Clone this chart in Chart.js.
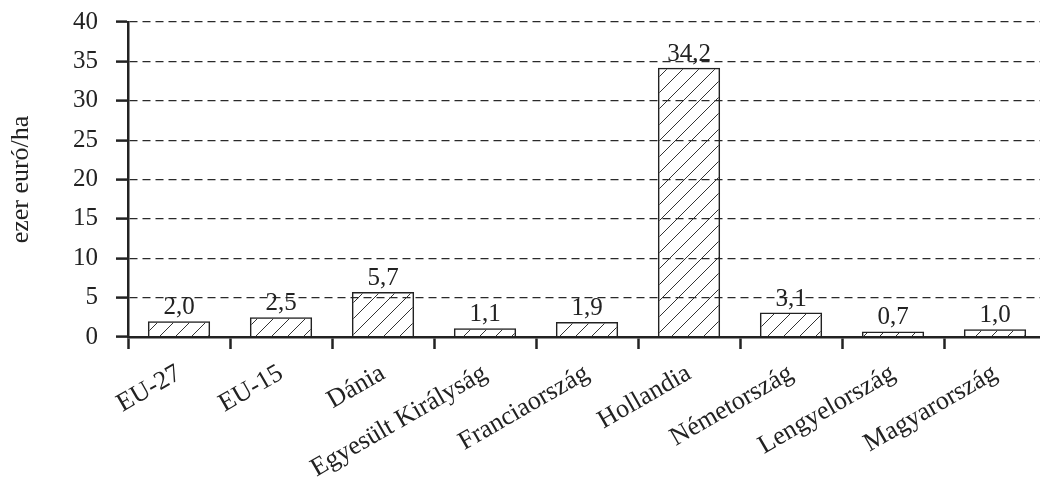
<!DOCTYPE html>
<html>
<head>
<meta charset="utf-8">
<script src="https://cdn.jsdelivr.net/npm/chart.js@4/dist/chart.umd.min.js"></script>
<style>
  html, body { margin: 0; padding: 0; background: #fff; overflow: hidden; }
  #wrap { width: 1050px; height: 477px; }
</style>
</head>
<body>
<div id="wrap"><canvas id="chart"></canvas></div>
<script>
const COUNTRIES = ["EU-27", "EU-15", "Dánia", "Egyesült Királyság", "Franciaország",
  "Hollandia", "Németország", "Lengyelország", "Magyarország"];
const VALUES = [2.0, 2.5, 5.7, 1.1, 1.9, 34.2, 3.1, 0.7, 1.0];
const Y_TICKS = [0, 5, 10, 15, 20, 25, 30, 35, 40];
const Y_TITLE = "ezer euró/ha";

const INK = "#222";
const FONT = "'Liberation Serif', 'Times New Roman', serif";

function hatchPattern() {
  const size = 16;
  const c = document.createElement("canvas");
  c.width = size;
  c.height = size;
  const g = c.getContext("2d");
  g.strokeStyle = "#333";
  g.lineWidth = 1;
  g.beginPath();
  g.moveTo(0, size);
  g.lineTo(size, 0);
  g.moveTo(-size / 2, size / 2);
  g.lineTo(size / 2, -size / 2);
  g.moveTo(size / 2, size * 1.5);
  g.lineTo(size * 1.5, size / 2);
  g.stroke();
  return g.createPattern(c, "repeat");
}

// value above each bar, comma as decimal separator
const valueLabels = {
  id: "valueLabels",
  afterDatasetsDraw(chart) {
    const ctx = chart.ctx;
    const meta = chart.getDatasetMeta(0);
    ctx.save();
    ctx.font = "25px " + FONT;
    ctx.fillStyle = INK;
    ctx.textAlign = "center";
    ctx.textBaseline = "alphabetic";
    meta.data.forEach((bar, i) => {
      ctx.fillText(VALUES[i].toFixed(1).replace(".", ","), bar.x, bar.y - 7);
    });
    ctx.restore();
  },
};

new Chart(document.getElementById("chart"), {
  type: "bar",
  data: {
    labels: COUNTRIES,
    datasets: [{
      data: VALUES,
      backgroundColor: hatchPattern(),
      borderColor: INK,
      borderWidth: 1.5,
      barPercentage: 0.61,
      categoryPercentage: 1,
    }],
  },
  options: {
    responsive: true,
    maintainAspectRatio: false,
    animation: false,
    layout: { padding: { top: 22, right: 4, left: 0, bottom: 0 } },
    plugins: {
      legend: { display: false },
      tooltip: { enabled: false },
    },
    scales: {
      x: {
        afterFit: (s) => { s.height = 140; s.paddingLeft = 0; s.paddingRight = 0; },
        border: { color: INK, width: 2.5 },
        grid: {
          offset: true,
          drawOnChartArea: false,
          drawTicks: true,
          tickLength: 12,
          tickColor: INK,
          tickWidth: 2.5,
        },
        ticks: {
          color: INK,
          font: { family: FONT, size: 26 },
          minRotation: 30,
          maxRotation: 30,
          autoSkip: false,
          padding: 9,
        },
      },
      y: {
        min: 0,
        max: 40,
        afterFit: (s) => { s.width = 128; s.paddingTop = 0; s.paddingBottom = 0; },
        afterBuildTicks: (s) => { s.ticks = Y_TICKS.map((v) => ({ value: v })); },
        border: { color: INK, width: 2.5, dash: [8, 5] },
        grid: {
          color: "#2a2a2a",
          lineWidth: 1.2,
          drawTicks: true,
          tickLength: 12,
          tickColor: INK,
          tickWidth: 2.5,
          tickBorderDash: [],
        },
        ticks: {
          color: INK,
          font: { family: FONT, size: 25 },
          padding: 18,
        },
        title: {
          display: true,
          text: Y_TITLE,
          color: INK,
          font: { family: FONT, size: 26 },
          padding: { top: 6, bottom: 0 },
        },
      },
    },
  },
  plugins: [valueLabels],
});
</script>
</body>
</html>
